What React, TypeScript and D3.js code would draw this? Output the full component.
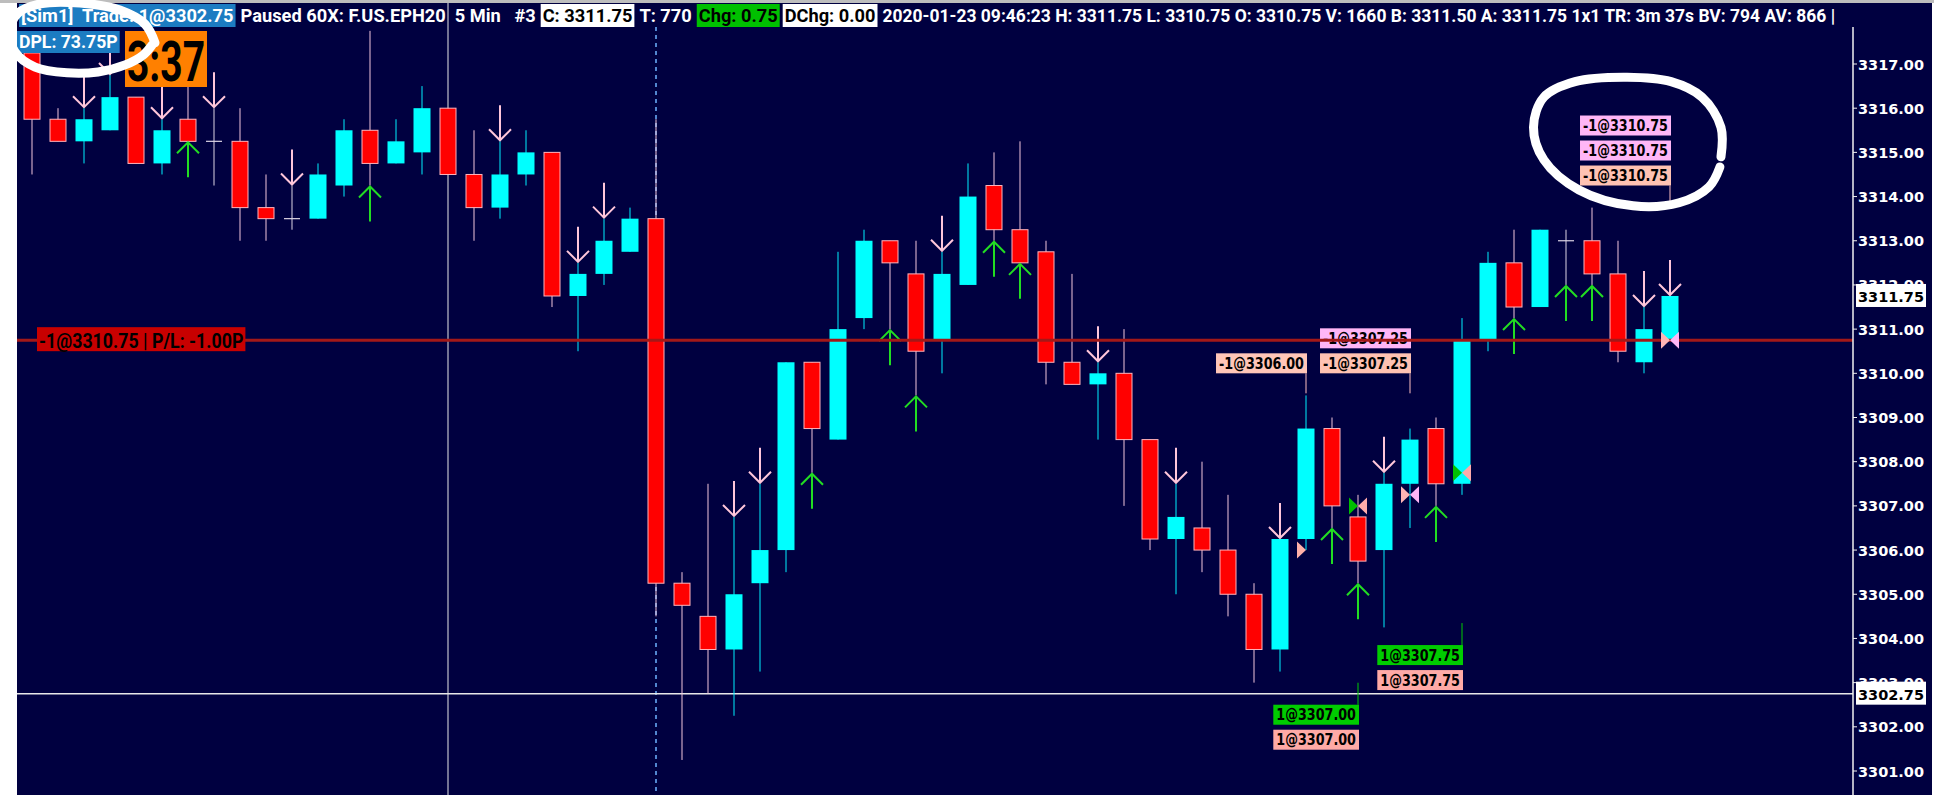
import React, { useEffect, useRef } from 'react'
import * as d3 from 'd3'

const W = 1934
const H = 795

// 5 min bars, F.US.EPH20 (64 bars, oldest first)
const opens = [
  3317.25, 3315.75, 3315.25, 3315.5, 3316.25, 3314.75, 3315.75, 3315.25, 3315.25, 3313.75,
  3313.5, 3313.5, 3314.25, 3315.5, 3314.75, 3315.0, 3316.0, 3314.5, 3313.75, 3314.5,
  3315.0, 3311.75, 3312.25, 3312.75, 3313.5, 3305.25, 3304.5, 3303.75, 3305.25, 3306.0,
  3310.25, 3308.5, 3311.25, 3313.0, 3312.25, 3310.75, 3312.0, 3314.25, 3313.25, 3312.75,
  3310.25, 3309.75, 3310.0, 3308.5, 3306.25, 3306.5, 3306.0, 3305.0, 3303.75, 3306.25,
  3308.75, 3306.75, 3306.0, 3307.5, 3308.75, 3307.5, 3310.75, 3312.5, 3311.5, 3313.0,
  3313.0, 3312.25, 3310.25, 3310.75
]
const highs = [
  3317.5, 3316.0, 3316.0, 3316.75, 3316.25, 3315.75, 3316.5, 3316.0, 3316.0, 3314.5,
  3314.25, 3314.75, 3315.75, 3317.75, 3315.75, 3316.5, 3316.0, 3315.5, 3315.25, 3315.5,
  3315.0, 3312.5, 3313.5, 3313.75, 3315.75, 3305.5, 3307.5, 3306.75, 3307.5, 3310.25,
  3310.25, 3312.75, 3313.25, 3313.0, 3313.0, 3312.75, 3314.75, 3315.0, 3315.25, 3313.0,
  3312.25, 3310.25, 3311.0, 3308.5, 3307.5, 3308.0, 3307.25, 3305.25, 3306.25, 3309.5,
  3309.0, 3307.25, 3307.75, 3308.75, 3309.0, 3311.25, 3312.75, 3313.25, 3313.25, 3313.25,
  3313.75, 3313.0, 3311.5, 3311.75
]
const lows = [
  3314.5, 3315.25, 3314.75, 3315.5, 3314.75, 3314.5, 3315.25, 3314.25, 3313.0, 3313.0,
  3313.25, 3313.5, 3314.0, 3314.25, 3314.75, 3314.5, 3314.5, 3313.0, 3313.5, 3314.25,
  3311.5, 3310.5, 3312.0, 3312.75, 3304.5, 3301.25, 3302.75, 3302.25, 3303.25, 3305.5,
  3307.75, 3308.5, 3311.0, 3311.0, 3309.5, 3310.0, 3312.0, 3313.0, 3312.5, 3309.75,
  3309.75, 3308.5, 3307.0, 3306.0, 3305.0, 3305.5, 3304.5, 3303.0, 3303.25, 3306.0,
  3306.5, 3305.25, 3304.25, 3306.5, 3307.0, 3307.25, 3310.5, 3311.25, 3311.5, 3312.0,
  3312.0, 3310.25, 3310.0, 3310.75
]
const closes = [
  3315.75, 3315.25, 3315.75, 3316.25, 3314.75, 3315.5, 3315.25, 3315.25, 3313.75, 3313.5,
  3313.5, 3314.5, 3315.5, 3314.75, 3315.25, 3316.0, 3314.5, 3313.75, 3314.5, 3315.0,
  3311.75, 3312.25, 3313.0, 3313.5, 3305.25, 3304.75, 3303.75, 3305.0, 3306.0, 3310.25,
  3308.75, 3311.0, 3313.0, 3312.5, 3310.5, 3312.25, 3314.0, 3313.25, 3312.5, 3310.25,
  3309.75, 3310.0, 3308.5, 3306.25, 3306.75, 3306.0, 3305.0, 3303.75, 3306.25, 3308.75,
  3307.0, 3305.75, 3307.5, 3308.5, 3307.5, 3310.75, 3312.5, 3311.5, 3313.25, 3313.0,
  3312.25, 3310.5, 3311.0, 3311.75
]

// signal arrows
const sellArrowBars = [2, 3, 5, 7, 10, 18, 21, 22, 27, 28, 35, 41, 44, 48, 52, 62, 63]
const buyArrowBars = [6, 13, 30, 33, 34, 37, 38, 50, 51, 54, 57, 59, 60]

// price axis
const priceTicks = d3.range(3301, 3318)
const positionPrice = 3310.75
const lastTradePrice = 3302.75
const lastPrice = 3311.75
const crosshairBar = 16
const sessionBar = 24

// executions
const execBars = [49, 51, 53, 55, 63]
const execPrices = [3306.0, 3307.0, 3307.25, 3307.75, 3310.75]
const fillBars = [63, 53, 49, 51, 55]
const fillTexts = [
  ['-1@3310.75', '-1@3310.75', '-1@3310.75'],
  ['-1@3307.25', '-1@3307.25'],
  ['-1@3306.00'],
  ['1@3307.00', '1@3307.00'],
  ['1@3307.75', '1@3307.75']
]
const fillAnchors = [3314.25, 3310.0, 3310.0, 3302.5, 3303.85]
const fillSides = ['sell', 'sell', 'sell', 'buy', 'buy']

const headerTexts = [
  '[Sim1]  Trade: 1@3302.75',
  'Paused 60X: F.US.EPH20  5 Min   #3',
  'C: 3311.75',
  'T: 770',
  'Chg: 0.75',
  'DChg: 0.00',
  '2020-01-23 09:46:23 H: 3311.75 L: 3310.75 O: 3310.75 V: 1660 B: 3311.50 A: 3311.75 1x1 TR: 3m 37s BV: 794 AV: 866 |'
]
const dplText = 'DPL: 73.75P'
const timerText = '3:37'
const pnlText = '-1@3310.75 | P/L: -1.00P'

// hand drawn marks (bar index, price)
const loopA = [[4.73, 3317.48], [4.35, 3317.9], [3.38, 3318.22], [1.85, 3318.38], [0.31, 3318.36], [-0.54, 3318.15], [-0.85, 3317.75], [-0.65, 3317.27], [0.12, 3316.93], [1.35, 3316.8], [2.54, 3316.82], [3.58, 3316.98], [4.27, 3317.2], [4.62, 3317.43]]
const loopB = [[64.96, 3314.9], [64.96, 3315.57], [64.23, 3316.25], [63.04, 3316.6], [61.35, 3316.7], [59.35, 3316.6], [58.15, 3316.25], [57.75, 3315.57], [58.15, 3314.83], [59.5, 3314.15], [61.58, 3313.79], [63.35, 3313.86], [64.5, 3314.22], [64.92, 3314.67]]

const NAVY = '#000040'
const headerStyle = [
  { bg: '#1c7cc2', fg: '#ffffff', squeeze: 0.96 },
  { bg: null, fg: '#ffffff', squeeze: 0.96 },
  { bg: '#ffffff', fg: '#000000', squeeze: 0.96 },
  { bg: null, fg: '#ffffff', squeeze: 0.96 },
  { bg: '#00c000', fg: '#000000', squeeze: 0.96 },
  { bg: '#ffffff', fg: '#000000', squeeze: 0.96 },
  { bg: null, fg: '#ffffff', squeeze: 0.92 }
]
const fillColors = [
  ['#ffb6f6', '#ffb6f6', '#ffc2b2'],
  ['#ffb6f6', '#ffc2b2'],
  ['#ffc6b8'],
  ['#00cc00', '#ffaaa6'],
  ['#00cc00', '#ffaaa6']
]
const execColors = [
  ['#ffb0a8', null],
  ['#00c000', '#ffaaaa'],
  ['#ffb4b4', '#ffb6f6'],
  ['#00c000', '#ffaaaa'],
  ['#ffb4b4', '#ffb6f6']
]

function fit(sel: any, factor: number) {
  const w = sel.node().getComputedTextLength() * factor
  sel.attr('textLength', w).attr('lengthAdjust', 'spacingAndGlyphs')
  return w
}

export default function App() {
  const svgRef = useRef<SVGSVGElement>(null)

  useEffect(() => {
    const svg = d3.select(svgRef.current)
    svg.selectAll('*').remove()

    const plotLeft = 17
    const plotRight = 1853
    const plotTop = 27
    const x = d3.scaleLinear().domain([0, opens.length - 1]).range([32, 1670])
    const y = d3.scaleLinear().domain([3317, 3301]).range([64, 771])

    svg.append('rect').attr('width', W).attr('height', H).attr('fill', '#ffffff')
    svg.append('rect').attr('x', plotLeft).attr('y', 0).attr('width', 1932 - plotLeft).attr('height', H).attr('fill', NAVY)
    svg.append('rect').attr('width', W).attr('height', 3).attr('fill', '#bdbdbd')

    // guides
    svg.append('line')
      .attr('x1', x(crosshairBar)).attr('x2', x(crosshairBar)).attr('y1', 3).attr('y2', H)
      .attr('stroke', '#e6e6e6').attr('stroke-width', 1)
    svg.append('line')
      .attr('x1', x(sessionBar)).attr('x2', x(sessionBar)).attr('y1', plotTop).attr('y2', H)
      .attr('stroke', '#6db2ff').attr('stroke-width', 1.5).attr('stroke-dasharray', '4,4')
    svg.append('line')
      .attr('x1', plotLeft).attr('x2', plotRight).attr('y1', y(lastTradePrice)).attr('y2', y(lastTradePrice))
      .attr('stroke', '#e8e8e8').attr('stroke-width', 1.5)

    // candles
    const bars = d3.range(opens.length)
    const cg = svg.append('g')
    bars.forEach(i => {
      const o = opens[i], c = closes[i]
      const cx = x(i)
      const up = c > o
      const doji = c === o
      const wickColor = doji ? '#dcd4e4' : up ? '#00f0ff' : '#f2c6dc'
      cg.append('line')
        .attr('x1', cx).attr('x2', cx).attr('y1', y(highs[i])).attr('y2', y(lows[i]))
        .attr('stroke', wickColor).attr('stroke-width', 1)
      if (doji) {
        cg.append('line')
          .attr('x1', cx - 8).attr('x2', cx + 8).attr('y1', y(o)).attr('y2', y(o))
          .attr('stroke', wickColor).attr('stroke-width', 1.2)
      } else if (up) {
        cg.append('rect')
          .attr('x', cx - 8.5).attr('width', 17)
          .attr('y', y(c)).attr('height', y(o) - y(c))
          .attr('fill', '#00ffff')
      } else {
        cg.append('rect')
          .attr('x', cx - 8).attr('width', 16)
          .attr('y', y(o)).attr('height', y(c) - y(o))
          .attr('fill', '#ff0000').attr('stroke', '#ffb4bc').attr('stroke-width', 1)
      }
    })

    // arrows
    const ag = svg.append('g').attr('fill', 'none').attr('stroke-width', 2)
    sellArrowBars.forEach(i => {
      const cx = x(i), ty = y(highs[i]) - 1
      ag.append('path')
        .attr('d', `M${cx},${ty - 35}L${cx},${ty}M${cx - 11},${ty - 11}L${cx},${ty}L${cx + 11},${ty - 11}`)
        .attr('stroke', '#ffc6da')
    })
    buyArrowBars.forEach(i => {
      const cx = x(i), ty = y(lows[i]) + 1
      ag.append('path')
        .attr('d', `M${cx},${ty + 35}L${cx},${ty}M${cx - 11},${ty + 11}L${cx},${ty}L${cx + 11},${ty + 11}`)
        .attr('stroke', '#22dd22')
    })

    // fill labels
    const lg = svg.append('g').style('font-family', "'DejaVu Sans', Verdana, sans-serif").style('font-weight', 'bold').style('font-size', '15px')
    fillBars.forEach((b, gi) => {
      const texts = fillTexts[gi]
      const n = texts.length
      const right = x(b) + 1
      const ya = y(fillAnchors[gi])
      const sell = fillSides[gi] === 'sell'
      texts.forEach((t, k) => {
        const top = sell ? ya - (n - k) * 25 + 5 : ya + k * 25
        const rect = lg.append('rect')
        const txt = lg.append('text').attr('y', top + 15.5).attr('fill', '#000000').text(t)
        const w = fit(txt, 0.85)
        txt.attr('x', right - w - 3)
        rect.attr('x', right - w - 6).attr('y', top).attr('width', w + 6).attr('height', 20).attr('fill', fillColors[gi][k])
      })
      lg.append('line')
        .attr('x1', right - 1).attr('x2', right - 1)
        .attr('y1', ya).attr('y2', sell ? ya + 20 : ya - 22)
        .attr('stroke', sell ? '#ffc0c0' : '#00cc00').attr('stroke-width', 1)
    })

    // position line + P/L tag
    const py = y(positionPrice)
    svg.append('line')
      .attr('x1', plotLeft).attr('x2', plotRight).attr('y1', py).attr('y2', py)
      .attr('stroke', '#a31818').attr('stroke-width', 3)
    const pg = svg.append('g').style('font-family', 'Roboto, sans-serif').style('font-weight', 'bold').style('font-size', '20px')
    const pRect = pg.append('rect')
    const pTxt = pg.append('text').attr('x', 39).attr('y', py + 7.5).attr('fill', '#000000').text(pnlText)
    const pw = fit(pTxt, 0.89)
    pRect.attr('x', 37).attr('y', py - 13).attr('width', pw + 4).attr('height', 24).attr('fill', '#c80000')

    // execution markers
    execBars.forEach((b, i) => {
      const cx = x(b), cy = y(execPrices[i])
      const [lc, rc] = execColors[i]
      if (lc) svg.append('path').attr('d', `M${cx - 9},${cy - 8.5}L${cx},${cy}L${cx - 9},${cy + 8.5}Z`).attr('fill', lc)
      if (rc) svg.append('path').attr('d', `M${cx + 9},${cy - 8.5}L${cx},${cy}L${cx + 9},${cy + 8.5}Z`).attr('fill', rc)
    })

    // price axis
    const axg = svg.append('g')
    axg.append('line').attr('x1', plotRight).attr('x2', plotRight).attr('y1', plotTop).attr('y2', H)
      .attr('stroke', '#f0f0f0').attr('stroke-width', 1.5)
    axg.selectAll('line.tick').data(priceTicks).enter().append('line')
      .attr('class', 'tick')
      .attr('x1', plotRight).attr('x2', plotRight + 4)
      .attr('y1', d => y(d)).attr('y2', d => y(d))
      .attr('stroke', '#f0f0f0').attr('stroke-width', 1)
    axg.selectAll('text.tl').data(priceTicks).enter().append('text')
      .attr('class', 'tl')
      .attr('x', plotRight + 5).attr('y', d => y(d) + 5.5)
      .attr('fill', '#ffffff')
      .style('font-family', "'DejaVu Sans', Verdana, sans-serif").style('font-weight', 'bold').style('font-size', '14.5px')
      .text(d => d3.format('.2f')(d))
    ;[lastPrice, lastTradePrice].forEach(p => {
      axg.append('rect').attr('x', plotRight + 3).attr('y', y(p) - 12).attr('width', 70).attr('height', 23).attr('fill', '#ffffff')
      axg.append('text')
        .attr('x', plotRight + 5).attr('y', y(p) + 6)
        .attr('fill', '#000000')
        .style('font-family', "'DejaVu Sans', Verdana, sans-serif").style('font-weight', 'bold').style('font-size', '14.5px')
        .text(d3.format('.2f')(p))
    })

    // header
    svg.append('clipPath').attr('id', 'hclip').append('rect').attr('x', 0).attr('y', 0).attr('width', plotRight - 1).attr('height', 30)
    const hg = svg.append('g').attr('clip-path', 'url(#hclip)')
      .style('font-family', 'Roboto, sans-serif').style('font-weight', 'bold').style('font-size', '19px')
    let hx = 19
    headerTexts.forEach((t, i) => {
      const st = headerStyle[i]
      const r = hg.append('rect')
      const tx = hg.append('text').attr('x', hx + 2).attr('y', 22).attr('fill', st.fg).style('white-space', 'pre').text(t)
      const w = fit(tx, st.squeeze)
      r.attr('x', hx).attr('y', 4).attr('width', w + 4).attr('height', 23).attr('fill', st.bg || 'none')
      hx += w + 7
    })

    // DPL + timer
    const dg = svg.append('g').style('font-family', 'Roboto, sans-serif').style('font-weight', 'bold')
    const dRect = dg.append('rect')
    const dTxt = dg.append('text').attr('x', 19).attr('y', 48).attr('fill', '#ffffff').style('font-size', '18px').text(dplText)
    const dw = fit(dTxt, 0.98)
    dRect.attr('x', 17).attr('y', 31).attr('width', dw + 4).attr('height', 22).attr('fill', '#1c7cc2')
    dg.append('rect').attr('x', 125).attr('y', 31).attr('width', 82).attr('height', 56).attr('fill', '#ff8000')
    dg.append('text').attr('x', 127).attr('y', 81).attr('fill', '#000000').style('font-size', '56px').text(timerText)
      .attr('textLength', 78).attr('lengthAdjust', 'spacingAndGlyphs')

    // hand drawn loops
    const loopLine = d3.line<number[]>().x(d => x(d[0])).y(d => y(d[1])).curve(d3.curveCatmullRom)
    ;[loopA, loopB].forEach(pts => {
      svg.append('path').attr('d', loopLine(pts)!)
        .attr('fill', 'none').attr('stroke', '#ffffff').attr('stroke-width', 9)
        .attr('stroke-linecap', 'round').attr('stroke-linejoin', 'round')
    })
  }, [])

  return (
    <svg
      ref={svgRef}
      width={W}
      height={H}
      style={{ position: 'absolute', left: 0, top: 0, display: 'block' }}
    />
  )
}
